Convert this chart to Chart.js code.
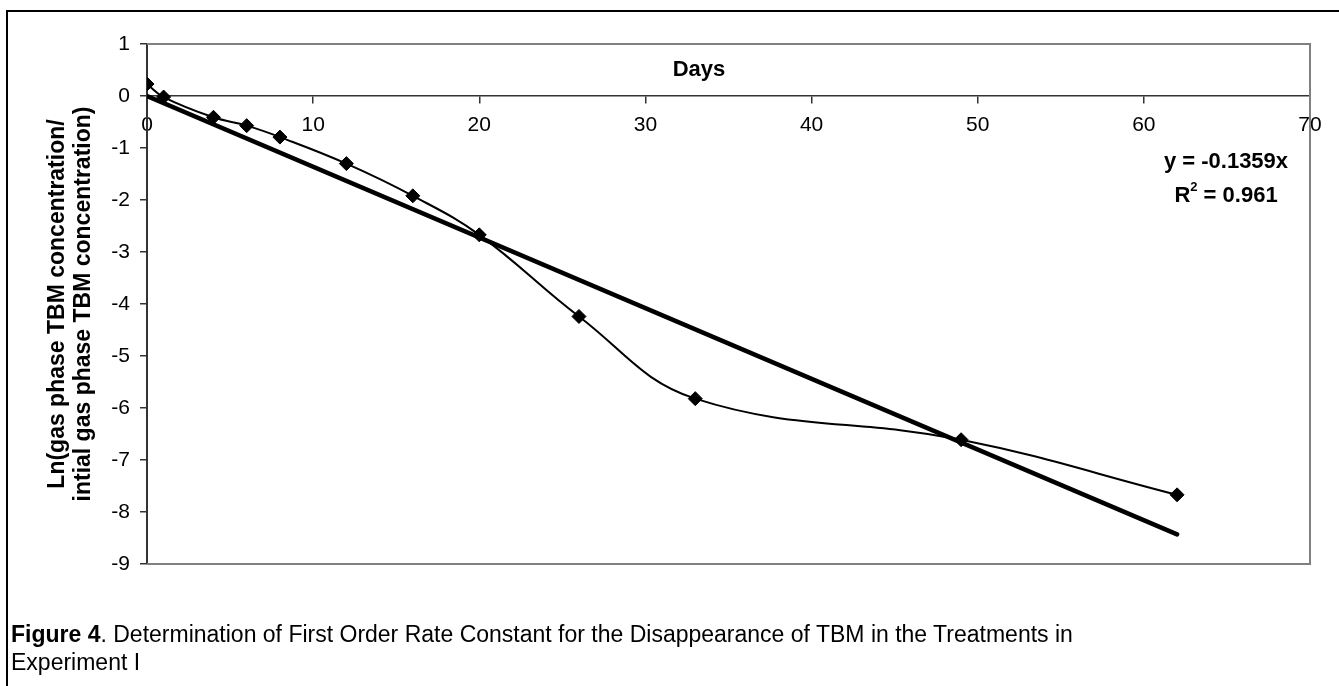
<!DOCTYPE html>
<html>
<head>
<meta charset="utf-8">
<script src="https://cdn.jsdelivr.net/npm/chart.js@4"></script>
<style>
    html, body { margin: 0; padding: 0; background: #fff; }
    body { width: 1339px; height: 686px; overflow: hidden; position: relative; }
    #frame {
        position: absolute; left: 6px; top: 10px; width: 1400px; height: 700px;
        border-left: 2px solid #000; border-top: 2px solid #000;
    }
    #chart { position: absolute; left: 0; top: 0; }
    #caption {
        position: absolute; left: 11px; top: 621px;
        font-family: "Liberation Sans", Arial, sans-serif; font-size: 23px; line-height: 27.6px;
        color: #000; white-space: nowrap;
    }
</style>
</head>
<body>
<div id="frame"></div>
<canvas id="chart" width="1339" height="686"></canvas>
<div id="caption"><b>Figure 4</b>. Determination of First Order Rate Constant for the Disappearance of TBM in the Treatments in<br>Experiment I</div>
<script>
// days and Ln(C/C0)
const days = [0, 1, 4, 6, 8, 12, 16, 20, 26, 33, 49, 62];
const lnRatio = [0.23, -0.02, -0.41, -0.57, -0.79, -1.30, -1.92, -2.67, -4.24, -5.82, -6.61, -7.67];

// linear trendline through origin, y = -0.1359x
const trendX = [0, 62];
const trendY = [0, -8.43];

const xTicks = [0, 10, 20, 30, 40, 50, 60, 70];
const yTicks = [1, 0, -1, -2, -3, -4, -5, -6, -7, -8, -9];

const FONT = "'Liberation Sans', Arial, sans-serif";
const AXIS_DARK = "#333333";
const FRAME_GREY = "#808080";

// grey box round the plot area (top, right, bottom)
const plotFrame = {
    id: "plotFrame",
    beforeDatasetsDraw(chart) {
        const ctx = chart.ctx;
        const a = chart.chartArea;
        ctx.save();
        ctx.strokeStyle = FRAME_GREY;
        ctx.lineWidth = 2;
        ctx.beginPath();
        ctx.moveTo(a.left, a.top);
        ctx.lineTo(a.right, a.top);
        ctx.lineTo(a.right, a.bottom);
        ctx.lineTo(a.left, a.bottom);
        ctx.stroke();
        ctx.restore();
    },
};

// "Days" title and the trendline equation
const labels = {
    id: "labels",
    afterDraw(chart) {
        const ctx = chart.ctx;
        ctx.save();
        ctx.fillStyle = "#000";
        ctx.textBaseline = "middle";
        ctx.textAlign = "center";
        ctx.font = "bold 22px " + FONT;
        ctx.fillText("Days", 699, 70);

        ctx.fillText("y = -0.1359x", 1226, 162);

        // R² with raised 2
        const cx = 1226, cy = 196;
        const p1 = "R", p3 = " = 0.961";
        ctx.font = "bold 22px " + FONT;
        const w1 = ctx.measureText(p1).width;
        const w3 = ctx.measureText(p3).width;
        ctx.font = "bold 13px " + FONT;
        const w2 = ctx.measureText("2").width;
        let x = cx - (w1 + w2 + w3) / 2;
        ctx.textAlign = "left";
        ctx.font = "bold 22px " + FONT;
        ctx.fillText(p1, x, cy);
        x += w1;
        ctx.font = "bold 13px " + FONT;
        ctx.fillText("2", x, cy - 9);
        x += w2;
        ctx.font = "bold 22px " + FONT;
        ctx.fillText(p3, x, cy);
        ctx.restore();
    },
};

new Chart(document.getElementById("chart"), {
    type: "scatter",
    data: {
        datasets: [
            {
                label: "TBM",
                data: days.map((d, i) => ({ x: d, y: lnRatio[i] })),
                showLine: true,
                tension: 0.4,
                borderColor: "#000",
                borderWidth: 2,
                backgroundColor: "#000",
                pointStyle: "rectRot",
                pointRadius: 7,
                pointBorderWidth: 1,
            },
            {
                label: "Trend",
                data: trendX.map((d, i) => ({ x: d, y: trendY[i] })),
                showLine: true,
                borderColor: "#000",
                borderWidth: 4.5,
                borderCapStyle: "round",
                pointRadius: 0,
            },
        ],
    },
    options: {
        responsive: false,
        animation: false,
        layout: { padding: { top: 44, right: 29, bottom: 122, left: 0 } },
        plugins: {
            legend: { display: false },
            tooltip: { enabled: false },
        },
        scales: {
            x: {
                type: "linear",
                position: { y: 0 },
                min: 0,
                max: 70,
                afterBuildTicks(scale) {
                    scale.ticks = xTicks.map((v) => ({ value: v }));
                },
                ticks: {
                    color: "#000",
                    font: { family: FONT, size: 21 },
                    padding: 10,
                    maxRotation: 0,
                },
                grid: {
                    drawOnChartArea: false,
                    tickLength: 7,
                    color: AXIS_DARK,
                    lineWidth: 1.5,
                },
                border: { color: AXIS_DARK, width: 1.5 },
            },
            y: {
                type: "linear",
                min: -9,
                max: 1,
                afterBuildTicks(scale) {
                    scale.ticks = yTicks.map((v) => ({ value: v }));
                },
                afterFit(scale) {
                    scale.width = 147;
                },
                ticks: {
                    color: "#000",
                    font: { family: FONT, size: 21 },
                    padding: 10,
                },
                grid: {
                    drawOnChartArea: false,
                    tickLength: 7,
                    color: AXIS_DARK,
                    lineWidth: 1.5,
                },
                border: { color: AXIS_DARK, width: 2 },
                title: {
                    display: true,
                    text: ["Ln(gas phase TBM concentration/", "intial gas phase TBM concentration)"],
                    color: "#000",
                    font: { family: FONT, size: 23, weight: "bold", lineHeight: 1.13 },
                    padding: { top: 45, bottom: 0 },
                },
            },
        },
    },
    plugins: [plotFrame, labels],
});
</script>
</body>
</html>
